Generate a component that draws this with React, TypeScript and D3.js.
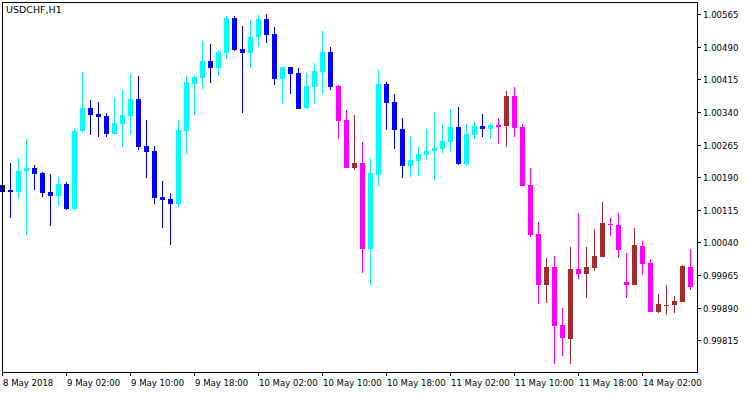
import React from 'react';
import { scaleLinear } from 'd3';

// USDCHF H1, 8 May 2018 18:00 .. 14 May 2018 04:00
const symbol = 'USDCHF,H1';

const open = [
  1.00172, 1.0016, 1.00157, 1.00203, 1.00211, 1.002, 1.00156, 1.00147, 1.00174, 1.00117,
  1.00297, 1.00349, 1.00335, 1.00331, 1.0029, 1.00313, 1.00331, 1.0037, 1.00262, 1.0025,
  1.00144, 1.0014, 1.00129, 1.00297, 1.00405, 1.00419, 1.00457, 1.00442, 1.00476, 1.00556,
  1.00485, 1.00476, 1.00511, 1.00554, 1.00519, 1.00416, 1.00443, 1.00429, 1.0035, 1.00398,
  1.00432, 1.00478, 1.004, 1.00321, 1.00212, 1.00223, 1.00026, 1.00196, 1.00404, 1.00363,
  1.00301, 1.00216, 1.00228, 1.00242, 1.00251, 1.00255, 1.00271, 1.00305, 1.00221, 1.00288,
  1.00308, 1.00301, 1.0031, 1.00308, 1.00377, 1.00305, 1.00172, 1.00059, 0.99943, 0.99983,
  0.9985, 0.99819, 0.99979, 0.99968, 0.99982, 1.00007, 1.00082, 1.0008, 0.99949, 0.99943,
  1.00032, 0.99993, 0.99881, 0.99897, 0.99897, 0.99904, 0.99983,
];
const high = [
  1.00177, 1.00223, 1.00234, 1.00278, 1.00217, 1.00201, 1.00197, 1.0019, 1.00179, 1.00301,
  1.00432, 1.00367, 1.00363, 1.00337, 1.00372, 1.0039, 1.00427, 1.00422, 1.00321, 1.00262,
  1.00181, 1.00154, 1.00321, 1.00422, 1.00425, 1.00503, 1.00496, 1.00482, 1.0056, 1.0056,
  1.00537, 1.00551, 1.00563, 1.00565, 1.00535, 1.00444, 1.00444, 1.00441, 1.00429, 1.00452,
  1.00526, 1.00489, 1.00401, 1.00344, 1.00333, 1.00271, 1.00234, 1.00436, 1.00409, 1.00381,
  1.00326, 1.00285, 1.00259, 1.00301, 1.0034, 1.00312, 1.00347, 1.00351, 1.00312, 1.00317,
  1.00335, 1.00314, 1.00326, 1.00388, 1.00397, 1.00312, 1.00211, 1.00087, 1.00004, 1.00009,
  0.99889, 1.00029, 1.00108, 1.00029, 1.00071, 1.00133, 1.00096, 1.00108, 1.00016, 1.00073,
  1.00043, 1.00002, 0.99921, 0.99942, 0.99917, 0.99988, 1.00025,
];
const low = [
  1.00149, 1.00095, 1.0014, 1.00058, 1.00161, 1.00145, 1.00078, 1.00124, 1.00115, 1.00113,
  1.00291, 1.00288, 1.00283, 1.00283, 1.00289, 1.0026, 1.00287, 1.00253, 1.00189, 1.00129,
  1.00072, 1.00035, 1.00122, 1.00244, 1.00334, 1.00393, 1.00407, 1.00423, 1.00462, 1.00481,
  1.00338, 1.00442, 1.0049, 1.00499, 1.00402, 1.00357, 1.00382, 1.00346, 1.00346, 1.00359,
  1.00382, 1.00391, 1.00278, 1.00211, 1.00207, 0.9997, 0.99941, 1.0017, 1.00299, 1.00255,
  1.00189, 1.00191, 1.00193, 1.00232, 1.00184, 1.00246, 1.00248, 1.00219, 1.00216, 1.00278,
  1.00283, 1.00278, 1.00267, 1.0026, 1.00283, 1.0017, 1.00053, 0.99899, 0.99901, 0.99761,
  0.9978, 0.99761, 0.99957, 0.99913, 0.99975, 1.00006, 1.00055, 1.00005, 0.99913, 0.99942,
  0.99966, 0.9988, 0.99878, 0.99874, 0.99878, 0.99903, 0.99931,
];
const close = [
  1.00157, 1.00157, 1.00204, 1.00211, 1.00198, 1.00154, 1.00147, 1.00174, 1.00117, 1.00296,
  1.00349, 1.00334, 1.00329, 1.0029, 1.00314, 1.00333, 1.0037, 1.0026, 1.00248, 1.00143,
  1.00138, 1.00129, 1.00298, 1.00409, 1.0042, 1.00457, 1.00442, 1.00478, 1.00556, 1.00483,
  1.00476, 1.00512, 1.00554, 1.00517, 1.00416, 1.00443, 1.00428, 1.00347, 1.004, 1.00434,
  1.00478, 1.00398, 1.0032, 1.00212, 1.00223, 1.00026, 1.002, 1.00404, 1.00361, 1.00299,
  1.00216, 1.00229, 1.00243, 1.0025, 1.00257, 1.00273, 1.00305, 1.00221, 1.00289, 1.00308,
  1.00301, 1.0031, 1.00306, 1.00377, 1.00304, 1.0017, 1.00058, 0.99943, 0.99983, 0.99849,
  0.99821, 0.99979, 0.99968, 0.99983, 1.00009, 1.00085, 1.00081, 1.00023, 0.99943, 1.00034,
  0.99991, 0.99881, 0.99898, 0.99897, 0.99905, 0.99986, 0.99938,
];
// indicator trend state per bar: 1 = up, -1 = down
const trend = [
  1, 1, 1, 1, 1, 1, 1, 1, 1, 1, 1, 1, 1, 1, 1, 1, 1, 1, 1, 1,
  1, 1, 1, 1, 1, 1, 1, 1, 1, 1, 1, 1, 1, 1, 1, 1, 1, 1, 1, 1,
  1, 1, -1, -1, -1, -1, 1, 1, 1, 1, 1, 1, 1, 1, 1, 1, 1, 1, 1, 1,
  1, 1, -1, -1, -1, -1, -1, -1, -1, -1, -1, -1, -1, -1, -1, -1, -1, -1, -1, -1,
  -1, -1, -1, -1, -1, -1, -1,
];

const priceTicks = [
  1.00565, 1.0049, 1.00415, 1.0034, 1.00265, 1.0019, 1.00115, 1.0004, 0.99965, 0.9989, 0.99815,
];
const timeTickBars = [0, 8, 16, 24, 32, 40, 48, 56, 64, 72, 80];
const timeTickLabels = [
  '8 May 2018', '9 May 02:00', '9 May 10:00', '9 May 18:00', '10 May 02:00', '10 May 10:00',
  '10 May 18:00', '11 May 02:00', '11 May 10:00', '11 May 18:00', '14 May 02:00',
];

const W = 750;
const H = 394;
const plot = { left: 2, top: 2, right: 697, bottom: 372 };
const font = "'DejaVu Sans Condensed', 'DejaVu Sans', sans-serif";

const colorOf = (i: number) => {
  const up = close[i] >= open[i];
  if (trend[i] > 0) return up ? '#00FFFF' : '#0000FF';
  return up ? '#A52A2A' : '#FF00FF';
};

const App = () => {
  const x = scaleLinear().domain([0, open.length - 1]).range([2, 2 + 8 * (open.length - 1)]);
  const y = scaleLinear().domain([0.99815, 1.00565]).range([340.3, 14]);
  const py = (v: number) => Math.round(y(v));

  return (
    <svg
      width={W}
      height={H}
      style={{ position: 'absolute', left: 0, top: 0, display: 'block', background: '#fff' }}
      shapeRendering="crispEdges"
    >
      <rect x={0} y={0} width={W} height={H} fill="#fff" />
      {open.map((o, i) => {
        const cx = Math.round(x(i));
        const c = colorOf(i);
        const top = Math.min(py(o), py(close[i]));
        const bot = Math.max(py(o), py(close[i]));
        const hi = py(high[i]);
        const lo = py(low[i]);
        return (
          <g key={i} fill={c}>
            <rect x={cx} y={hi} width={1} height={Math.max(1, lo - hi)} />
            <rect x={cx - 2} y={top} width={5} height={Math.max(1, bot - top)} />
          </g>
        );
      })}
      <rect
        x={plot.left + 0.5}
        y={plot.top + 0.5}
        width={plot.right - plot.left}
        height={plot.bottom - plot.top}
        fill="none"
        stroke="#000"
      />
      {priceTicks.map((v) => (
        <g key={v}>
          <line x1={plot.right} x2={plot.right + 4} y1={py(v) + 0.5} y2={py(v) + 0.5} stroke="#000" />
          <text
            x={plot.right + 6}
            y={py(v) + 3.5}
            fontFamily={font}
            fontSize={9.5}
            fill="#000"
            shapeRendering="auto"
          >
            {v.toFixed(5)}
          </text>
        </g>
      ))}
      {timeTickBars.map((b, k) => (
        <g key={b}>
          <line
            x1={Math.round(x(b)) + 0.5}
            x2={Math.round(x(b)) + 0.5}
            y1={plot.bottom}
            y2={plot.bottom + 4}
            stroke="#000"
          />
          <text x={Math.round(x(b)) + 1} y={386} fontFamily={font} fontSize={9.5} fill="#000">
            {timeTickLabels[k]}
          </text>
        </g>
      ))}
      <text x={6} y={13} fontFamily="'DejaVu Sans', sans-serif" fontSize={9.5} fill="#000">
        {symbol}
      </text>
    </svg>
  );
};

export default App;
